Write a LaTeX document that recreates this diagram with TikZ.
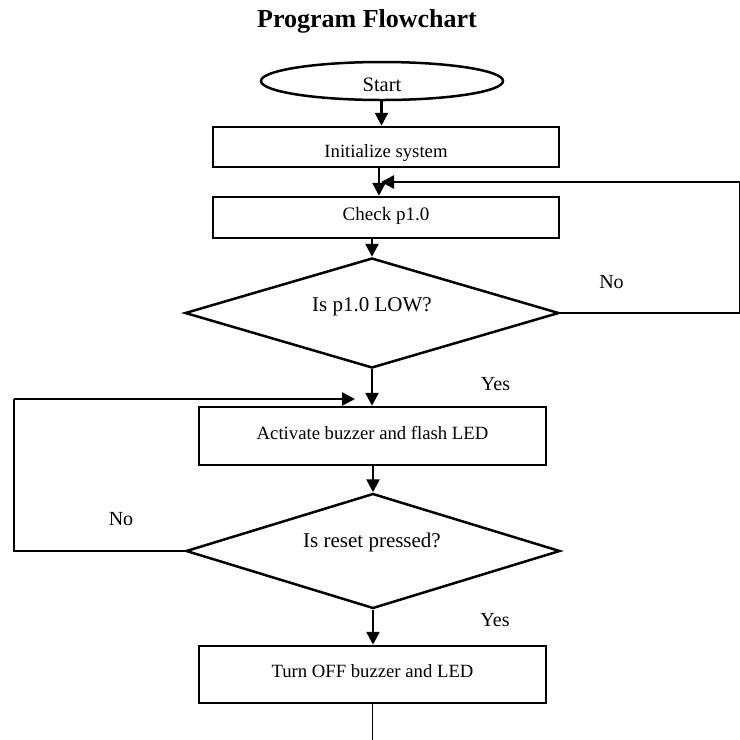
\documentclass[tikz,border=0pt]{standalone}
\usepackage{fontspec}
\setmainfont{Liberation Serif}
\usetikzlibrary{arrows.meta,shapes.geometric}
\begin{document}
\begin{tikzpicture}[x=1pt,y=-1pt,
  thickln/.style={line width=2.5pt},
  thinln/.style={line width=1.1pt},
  arr/.style={thickln,-{Triangle[length=13pt,width=13pt]}},
  boxnode/.style={draw,thickln,rectangle,inner sep=0pt,text height=0.66em,text depth=0pt,font=\fontsize{18.7}{22}\selectfont},
  decnode/.style={draw,thickln,diamond,inner sep=0pt},
  txt/.style={inner sep=0pt,anchor=base,font=\fontsize{21}{24}\selectfont},
  lbl/.style={inner sep=0pt,anchor=base,font=\fontsize{20}{24}\selectfont}]
\useasboundingbox (0,0) rectangle (740,740);
\fill[white] (0,0) rectangle (740,740);

\node[inner sep=0pt,anchor=base,font=\bfseries\fontsize{26}{30}\selectfont] (title) at (367,27) {Program Flowchart};

\node[draw,thickln,ellipse,inner sep=0pt,minimum width=242pt,minimum height=38pt,text height=20pt,text depth=0pt,font=\fontsize{20.5}{24}\selectfont] (start) at (382,81) {Start};
\node[boxnode,minimum width=346pt,minimum height=40pt,text height=20pt] (init) at (386,147) {Initialize system};
\node[boxnode,minimum width=346pt,minimum height=41pt,font=\fontsize{19}{22}\selectfont] (check) at (386,217.5) {Check p1.0};
\node[decnode,minimum width=374pt,minimum height=110pt] (d1) at (372,313) {};
\node[txt] (d1t) at (372,311) {Is p1.0 LOW?};
\node[boxnode,minimum width=347pt,minimum height=58pt] (act) at (372.5,436) {Activate buzzer and flash LED};
\node[decnode,minimum width=374pt,minimum height=115pt] (d2) at (373,551) {};
\node[txt] (d2t) at (372,547) {Is reset pressed?};
\node[boxnode,minimum width=347pt,minimum height=57pt] (off) at (372.5,674.5) {Turn OFF buzzer and LED};

\node[lbl] (no1) at (611.5,288) {No};
\node[lbl] (yes1) at (495.5,390) {Yes};
\node[lbl] (no2) at (121,525) {No};
\node[lbl] (yes2) at (495,626) {Yes};

\coordinate (rA) at (739.5,313);
\coordinate (rB) at (739.5,182);
\coordinate (rC) at (381,182);
\coordinate (lA) at (14,551);
\coordinate (lB) at (14,399);
\coordinate (lC) at (355,399);
\coordinate (bot) at (372.5,740);

\draw[arr] (start.south -| 381.5,0) -- (381.5,0 |- init.north);
\draw[arr] ([xshift=-7pt]init.south) -- ([xshift=-7pt]init.south |- check.north);
\draw[arr] (d1.north |- check.south) -- (d1.north);
\draw[arr] (d1.south) -- (d1.south |- act.north);
\draw[arr] (act.south -| d2.north) -- (d2.north);
\draw[arr] (d2.south) -- (d2.south |- off.north);

\draw[thinln] (d1.east) -- (rA) -- (rB);
\draw[arr] (rB) -- (rC);
\draw[thinln] (d2.west) -- (lA) -- (lB);
\draw[arr] (lB) -- (lC);
\draw[thinln] (off.south) -- (bot);
\end{tikzpicture}
\end{document}
